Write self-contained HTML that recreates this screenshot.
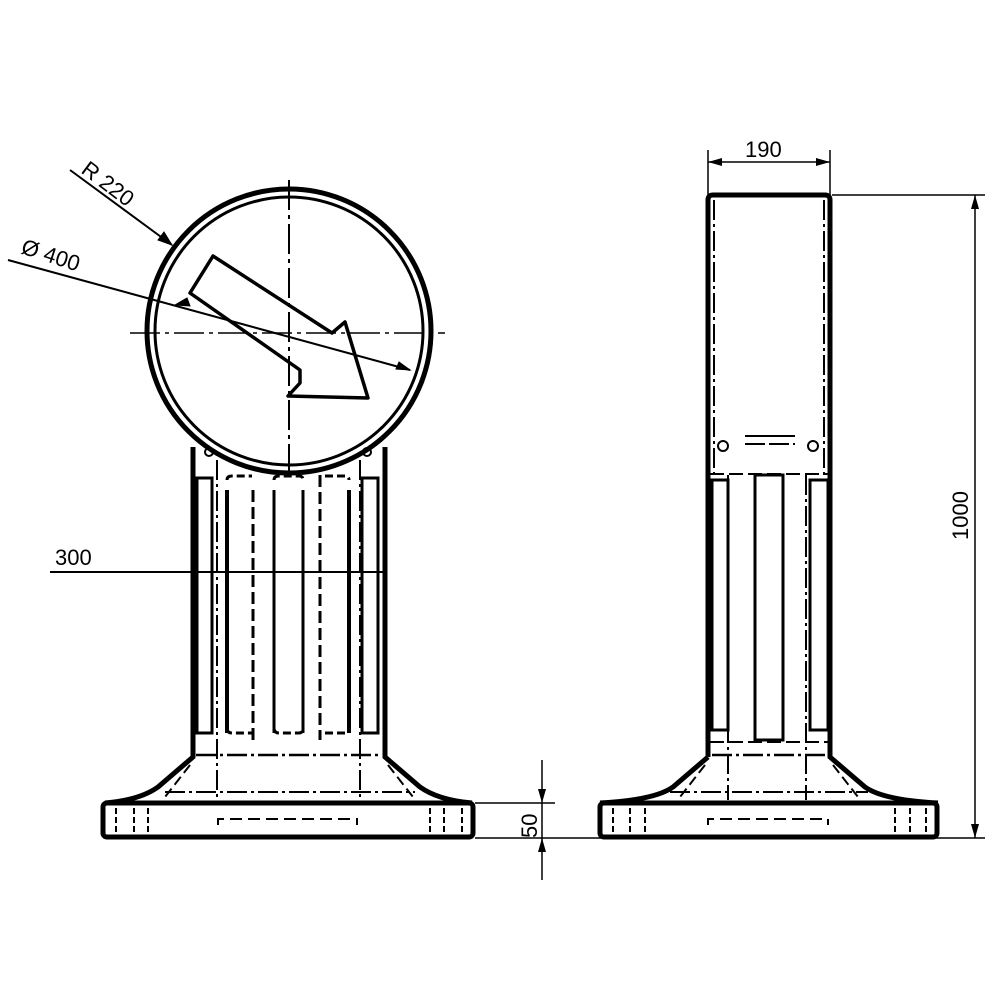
<!DOCTYPE html>
<html><head><style>body{margin:0;background:#fff}svg{display:block}</style></head><body>
<svg width="1000" height="1000" viewBox="0 0 1000 1000" xmlns="http://www.w3.org/2000/svg" font-family="Liberation Sans, sans-serif">
<g fill="none" stroke="#000">
<line x1="289" y1="180" x2="289" y2="478" stroke-width="2" stroke-dasharray="30,5,4,5"/>
<line x1="130" y1="333" x2="445" y2="333" stroke-width="1.5" stroke-dasharray="30,5,4,5"/>
<circle cx="289" cy="331" r="142" stroke-width="5"/>
<circle cx="289" cy="331" r="134" stroke-width="3"/>
<path d="M193 447 V757 L158 787 Q140 800 105 803" stroke-width="5"/>
<path d="M385 447 V757 L420 787 Q438 800 472 803" stroke-width="5"/>
<rect x="103" y="803" width="370" height="34" rx="4" stroke-width="5"/>
<rect x="197" y="478" width="15" height="255" stroke-width="3"/>
<rect x="362" y="478" width="16" height="255" stroke-width="3"/>
<line x1="217" y1="460" x2="217" y2="800" stroke-width="2" stroke-dasharray="20,4,3,4"/>
<line x1="360" y1="460" x2="360" y2="800" stroke-width="2" stroke-dasharray="20,4,3,4"/>
<line x1="227" y1="490" x2="227" y2="733" stroke-width="4"/>
<line x1="253" y1="490" x2="253" y2="740" stroke-width="3" stroke-dasharray="12,5"/>
<line x1="274" y1="490" x2="274" y2="733" stroke-width="3"/>
<line x1="303" y1="490" x2="303" y2="733" stroke-width="3"/>
<line x1="320" y1="475" x2="320" y2="740" stroke-width="3" stroke-dasharray="12,5"/>
<line x1="349" y1="490" x2="349" y2="733" stroke-width="4"/>
<path d="M227 480 Q227 476 232 476 H252 M274 480 Q274 476 279 476 H299 Q303 476 303 480 M325 476 H345 Q349 476 349 480" stroke-width="3" stroke-dasharray="8,4"/>
<path d="M227 728 Q227 733 232 733 H252 M274 728 Q274 733 279 733 H299 Q303 733 303 728 M325 733 H345 Q349 733 349 728" stroke-width="3" stroke-dasharray="8,4"/>
<line x1="196" y1="755" x2="382" y2="755" stroke-width="2.5" stroke-dasharray="20,4,3,4"/>
<line x1="165" y1="792" x2="415" y2="792" stroke-width="2" stroke-dasharray="20,4,3,4"/>
<line x1="190" y1="765" x2="165" y2="797" stroke-width="2" stroke-dasharray="10,5"/>
<line x1="388" y1="765" x2="413" y2="797" stroke-width="2" stroke-dasharray="10,5"/>
<path d="M218 825 V819 H357 V825" stroke-width="2" stroke-dasharray="12,6"/>
<path d="M116 808 V832 M134 808 V832 M148 808 V832 M430 808 V832 M444 808 V832 M462 808 V832" stroke-width="2" stroke-dasharray="6,3"/>
<circle cx="209" cy="452" r="4" stroke-width="2"/><circle cx="367" cy="452" r="4" stroke-width="2"/>
<path d="M190 293 L213 256 L332 333 L345 322 L368 398 L288 396 L300 383 L300 370 Z" stroke-width="3.5" stroke-linejoin="round"/>
<line x1="70" y1="170" x2="172" y2="245" stroke-width="2"/>
<path d="M172 245 L158 240 L164 232 Z" fill="#000"/>
<line x1="8" y1="260" x2="410" y2="370" stroke-width="2"/>
<path d="M175 305 L190 306 L187 298Z M410 370 L396 369 L399 362Z" fill="#000"/>
<line x1="50" y1="572" x2="385" y2="572" stroke-width="2"/>
<path d="M708 757 V200 Q708 195 713 195 H825 Q830 195 830 200 V757 L865 787 Q883 800 938 803" stroke-width="5"/>
<path d="M708 757 L673 787 Q655 800 600 803" stroke-width="5"/>
<rect x="600" y="803" width="337" height="34" rx="4" stroke-width="5"/>
<line x1="714" y1="200" x2="714" y2="478" stroke-width="2" stroke-dasharray="20,4,3,4"/>
<line x1="824" y1="200" x2="824" y2="478" stroke-width="2" stroke-dasharray="20,4,3,4"/>
<rect x="712" y="480" width="16" height="250" stroke-width="3"/>
<rect x="810" y="480" width="18" height="250" stroke-width="3"/>
<rect x="755" y="475" width="28" height="265" stroke-width="3"/>
<line x1="728" y1="475" x2="728" y2="800" stroke-width="2" stroke-dasharray="20,4,3,4"/>
<line x1="806" y1="475" x2="806" y2="800" stroke-width="2" stroke-dasharray="20,4,3,4"/>
<line x1="745" y1="436" x2="795" y2="436" stroke-width="2"/>
<line x1="745" y1="444" x2="795" y2="444" stroke-width="2" stroke-dasharray="20,4"/>
<line x1="710" y1="474" x2="828" y2="474" stroke-width="2" stroke-dasharray="14,5"/>
<line x1="710" y1="742" x2="828" y2="742" stroke-width="2" stroke-dasharray="14,5"/>
<line x1="712" y1="755" x2="826" y2="755" stroke-width="2.5" stroke-dasharray="20,4,3,4"/>
<line x1="670" y1="792" x2="868" y2="792" stroke-width="2" stroke-dasharray="20,4,3,4"/>
<path d="M705 765 L680 797 M833 765 L858 797" stroke-width="2" stroke-dasharray="10,5"/>
<path d="M708 825 V819 H828 V825" stroke-width="2" stroke-dasharray="12,6"/>
<path d="M613 808 V832 M630 808 V832 M645 808 V832 M895 808 V832 M910 808 V832 M926 808 V832" stroke-width="2" stroke-dasharray="6,3"/>
<circle cx="723" cy="446" r="5" stroke-width="2"/><circle cx="813" cy="446" r="5" stroke-width="2"/>
<path d="M708 150 V195 M830 150 V195 M708 162 H830 M832 195 H985 M475 838 H985 M475 803 H555 M542 760 V880 M975 195 V838" stroke-width="1.5"/>
</g>
<g fill="#000">
<path d="M708 162 l14 -4 v8Z M830 162 l-14 -4 v8Z M975 195 l-4 14 h8Z M975 838 l-4 -14 h8Z M542 803 l-4 -14 h8Z M542 838 l-4 14 h8Z"/>
</g>
<g font-size="22" fill="#000">
<text x="745" y="157">190</text>
<text x="55" y="565">300</text>
<text transform="translate(968,540) rotate(-90)">1000</text>
<text transform="translate(537,838) rotate(-90)">50</text>
<text transform="translate(80,172) rotate(37)">R 220</text>
<text transform="translate(20,253) rotate(18)">Ø 400</text>
</g>
</svg>
</body></html>
